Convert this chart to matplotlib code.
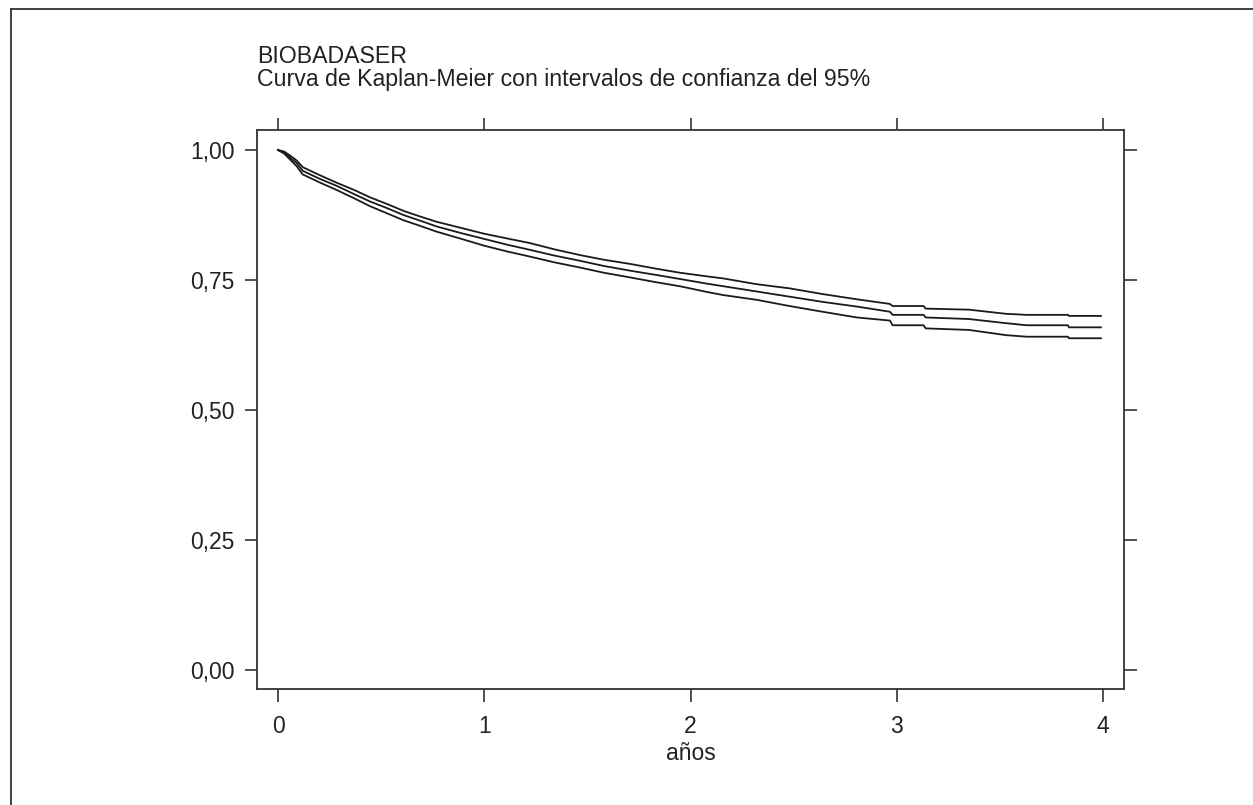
import matplotlib
matplotlib.use("Agg")
import matplotlib.pyplot as plt
from matplotlib.lines import Line2D

plt.rcParams['font.family'] = ['Liberation Sans', 'DejaVu Sans']

# Kaplan-Meier estimate (years) and 95% confidence limits
years = [0.00, 0.03, 0.06, 0.09, 0.12, 0.20, 0.285, 0.37, 0.446, 0.53, 0.608, 0.69,
         0.769, 0.89, 1.00, 1.11, 1.222, 1.34, 1.464, 1.58, 1.707, 1.83, 1.949,
         2.08, 2.16, 2.32, 2.48, 2.64, 2.806, 2.967, 2.98, 3.13, 3.14, 3.35, 3.53,
         3.63, 3.83, 3.835, 3.99]
km = [1.000, 0.995, 0.985, 0.975, 0.960, 0.945, 0.931, 0.915, 0.901, 0.888, 0.875, 0.864,
      0.853, 0.840, 0.829, 0.818, 0.808, 0.797, 0.787, 0.777, 0.768, 0.760, 0.752,
      0.743, 0.738, 0.728, 0.718, 0.708, 0.699, 0.689, 0.683, 0.683, 0.678, 0.675, 0.667,
      0.663, 0.663, 0.659, 0.659]
upper = [1.000, 0.997, 0.989, 0.980, 0.967, 0.952, 0.937, 0.923, 0.909, 0.896, 0.883, 0.872,
         0.862, 0.850, 0.839, 0.830, 0.821, 0.809, 0.798, 0.789, 0.781, 0.772, 0.764,
         0.757, 0.753, 0.742, 0.734, 0.723, 0.713, 0.704, 0.700, 0.700, 0.695, 0.693, 0.685,
         0.683, 0.683, 0.681, 0.681]
lower = [1.000, 0.993, 0.981, 0.969, 0.953, 0.938, 0.923, 0.907, 0.892, 0.878, 0.865, 0.854,
         0.843, 0.829, 0.816, 0.805, 0.795, 0.784, 0.774, 0.764, 0.755, 0.746, 0.738,
         0.727, 0.721, 0.712, 0.700, 0.689, 0.678, 0.672, 0.663, 0.663, 0.657, 0.654, 0.644,
         0.641, 0.641, 0.638, 0.638]

x_ticks = [0, 1, 2, 3, 4]
x_ticklabels = ['0', '1', '2', '3', '4']
y_ticks = [0.0, 0.25, 0.5, 0.75, 1.0]
y_ticklabels = ['0,00', '0,25', '0,50', '0,75', '1,00']

title_lines = ['BIOBADASER', 'Curva de Kaplan-Meier con intervalos de confianza del 95%']
xlabel = 'años'

W, H = 1253, 805
fig = plt.figure(figsize=(W / 100, H / 100), dpi=100)
ax = fig.add_axes([257 / W, 1 - 689 / H, (1124 - 257) / W, (689 - 130) / H])

dark = '#1a1a1a'
for series in (upper, km, lower):
    ax.plot(years, series, color=dark, lw=1.3)

ax.set_xlim(-0.102, 4.102)
ax.set_ylim(-0.0365, 1.0385)
ax.set_xticks(x_ticks)
ax.set_xticklabels(x_ticklabels)
ax.set_yticks(y_ticks)
ax.set_yticklabels(y_ticklabels)
ax.tick_params(axis='both', which='both', direction='out', length=9, width=1.2,
               colors='#333333', labelcolor='#222222', labelsize=16.5,
               top=True, right=True)
ax.tick_params(axis='x', pad=9.5)
ax.tick_params(axis='y', pad=7)
for sp in ax.spines.values():
    sp.set_color('#333333')
    sp.set_linewidth(1.3)

ax.set_xlabel(xlabel, fontsize=16.5, color='#222222', labelpad=3)

ax.text(0.0, 1 + (130 - 85.5) / (689 - 130), '\n'.join(title_lines), transform=ax.transAxes,
        fontsize=16.7, color='#222222', ha='left', va='baseline', linespacing=0.95)

# outer frame (only top and left edges visible)
fig.add_artist(Line2D([11 / W, 11 / W], [0, 1 - 9 / H], transform=fig.transFigure,
                      color='#333333', lw=1.3))
fig.add_artist(Line2D([11 / W, 1], [1 - 9 / H, 1 - 9 / H], transform=fig.transFigure,
                      color='#333333', lw=1.3))

fig.savefig('out.png', dpi=100)
